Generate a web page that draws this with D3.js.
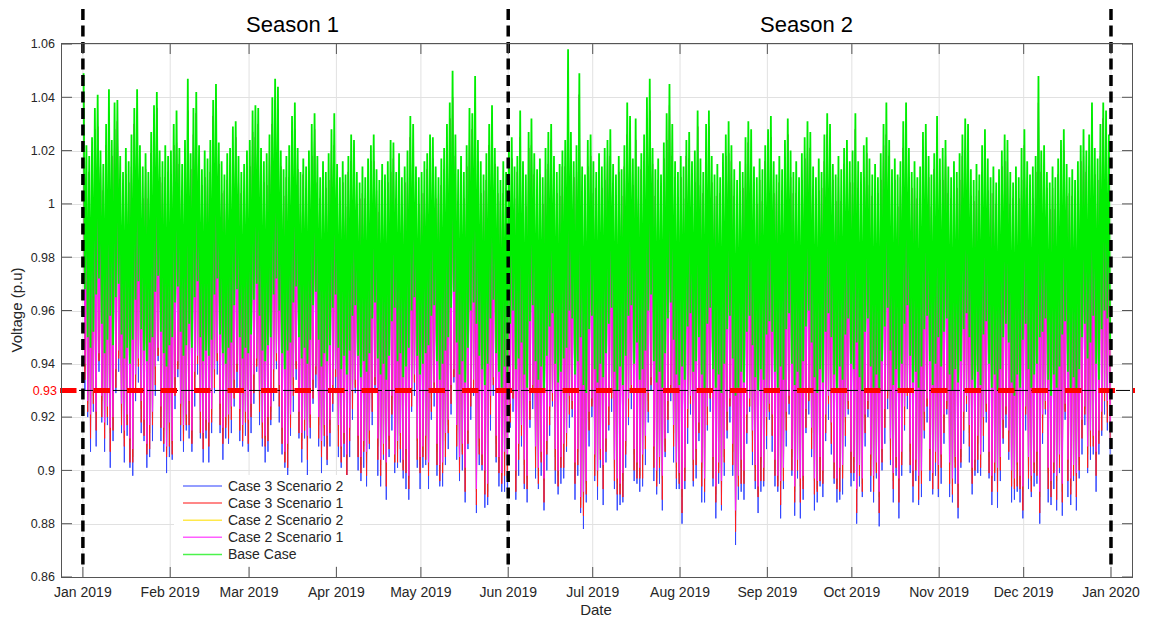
<!DOCTYPE html>
<html><head><meta charset="utf-8">
<script src="https://cdn.jsdelivr.net/npm/d3@7"></script>
<style>
body{margin:0;background:#fff}
svg{display:block;font-family:"Liberation Sans",Arial,Helvetica,sans-serif}
</style>
</head><body><svg id="chart" width="1150" height="624"></svg>
<script>
// ---------- DATA (daily extremes, p.u.) ----------
const baseCaseMax = [
1.049,1.022,1.018,1.025,1.036,1.041,1.020,1.015,1.030,1.043,1.024,1.038,1.039,1.018,1.012,1.021,1.016,1.026,1.036,1.043,1.022,1.014,1.019,1.012,1.027,1.037,1.042,1.020,1.016,1.022,1.018,
1.020,1.030,1.035,1.021,1.015,1.024,1.047,1.019,1.036,1.042,1.022,1.013,1.020,1.017,1.024,1.039,1.045,1.023,1.016,1.011,1.019,1.021,1.029,1.031,1.018,1.012,1.015,1.020,
1.024,1.035,1.037,1.036,1.021,1.016,1.019,1.026,1.040,1.047,1.044,1.020,1.013,1.018,1.022,1.033,1.038,1.021,1.012,1.017,1.014,1.020,1.030,1.034,1.018,1.010,1.016,1.012,1.019,1.028,1.034,
1.015,1.010,1.016,1.011,1.018,1.026,1.024,1.012,1.008,1.014,1.010,1.017,1.022,1.026,1.013,1.009,1.015,1.011,1.016,1.024,1.023,1.012,1.019,1.010,1.014,1.020,1.033,1.030,1.014,1.010,
1.012,1.016,1.019,1.026,1.025,1.014,1.010,1.017,1.021,1.030,1.038,1.050,1.026,1.013,1.018,1.012,1.022,1.036,1.034,1.048,1.024,1.016,1.011,1.019,1.030,1.037,1.021,1.014,1.009,1.016,1.012,
1.022,1.025,1.014,1.018,1.035,1.016,1.011,1.027,1.032,1.019,1.013,1.017,1.010,1.021,1.027,1.030,1.018,1.012,1.015,1.020,1.024,1.058,1.027,1.016,1.022,1.049,1.014,1.011,1.024,1.026,
1.016,1.012,1.019,1.014,1.021,1.024,1.028,1.015,1.011,1.018,1.013,1.022,1.038,1.033,1.017,1.032,1.014,1.019,1.026,1.040,1.047,1.021,1.013,1.017,1.011,1.023,1.034,1.045,1.030,1.016,1.012,
1.018,1.014,1.024,1.027,1.016,1.020,1.035,1.017,1.012,1.030,1.035,1.018,1.011,1.015,1.010,1.019,1.026,1.031,1.022,1.013,1.009,1.016,1.012,1.025,1.031,1.028,1.014,1.010,1.017,1.013,1.022,
1.028,1.033,1.016,1.011,1.018,1.013,1.024,1.032,1.020,1.012,1.016,1.010,1.019,1.025,1.031,1.027,1.014,1.010,1.017,1.012,1.026,1.034,1.030,1.015,1.011,1.018,1.013,1.021,1.024,1.016,
1.020,1.034,1.016,1.012,1.022,1.025,1.017,1.011,1.015,1.010,1.019,1.030,1.038,1.024,1.013,1.017,1.011,1.016,1.031,1.038,1.021,1.012,1.016,1.010,1.014,1.027,1.030,1.018,1.011,1.019,1.033,
1.017,1.021,1.024,1.014,1.010,1.016,1.012,1.019,1.026,1.032,1.030,1.013,1.009,1.015,1.011,1.022,1.028,1.017,1.010,1.014,1.008,1.013,1.020,1.026,1.024,1.012,1.008,1.014,1.010,1.021,
1.028,1.016,1.011,1.014,1.018,1.048,1.020,1.022,1.012,1.008,1.014,1.010,1.017,1.024,1.028,1.015,1.010,1.013,1.009,1.016,1.022,1.028,1.020,1.026,1.038,1.021,1.017,1.030,1.038,1.035,1.026];

const baseCaseMin = [
0.968,0.950,0.946,0.952,0.966,0.972,0.955,0.944,0.949,0.958,0.947,0.965,0.970,0.951,0.942,0.946,0.940,0.949,0.964,0.971,0.953,0.945,0.941,0.948,0.950,0.967,0.973,0.952,0.944,0.939,0.947,
0.950,0.963,0.969,0.952,0.943,0.947,0.955,0.946,0.965,0.971,0.950,0.941,0.945,0.943,0.949,0.966,0.972,0.951,0.944,0.940,0.946,0.948,0.962,0.968,0.950,0.942,0.946,0.944,
0.951,0.964,0.970,0.958,0.945,0.941,0.947,0.950,0.966,0.972,0.960,0.944,0.938,0.945,0.948,0.963,0.969,0.950,0.942,0.946,0.940,0.949,0.962,0.967,0.949,0.939,0.944,0.941,0.947,0.961,0.966,
0.946,0.938,0.943,0.936,0.945,0.958,0.962,0.943,0.935,0.941,0.937,0.944,0.957,0.963,0.942,0.936,0.940,0.934,0.943,0.956,0.961,0.941,0.944,0.935,0.939,0.946,0.960,0.965,0.943,0.936,
0.940,0.944,0.947,0.958,0.962,0.941,0.934,0.940,0.945,0.950,0.961,0.967,0.948,0.936,0.941,0.933,0.946,0.960,0.963,0.955,0.943,0.938,0.932,0.940,0.957,0.964,0.944,0.937,0.931,0.939,0.935,
0.955,0.960,0.938,0.942,0.948,0.936,0.931,0.956,0.962,0.941,0.934,0.939,0.930,0.943,0.954,0.959,0.940,0.933,0.937,0.942,0.946,0.960,0.957,0.936,0.941,0.950,0.932,0.929,0.953,0.958,
0.938,0.933,0.940,0.935,0.944,0.955,0.961,0.937,0.930,0.939,0.932,0.943,0.958,0.962,0.940,0.948,0.934,0.938,0.945,0.960,0.966,0.941,0.933,0.937,0.931,0.944,0.957,0.963,0.949,0.936,0.932,
0.939,0.934,0.954,0.959,0.937,0.941,0.950,0.936,0.930,0.955,0.961,0.938,0.931,0.936,0.929,0.940,0.953,0.958,0.942,0.928,0.931,0.937,0.933,0.952,0.958,0.947,0.935,0.930,0.938,0.934,0.951,
0.956,0.952,0.937,0.931,0.939,0.934,0.953,0.959,0.940,0.932,0.937,0.930,0.941,0.954,0.960,0.948,0.935,0.929,0.938,0.933,0.952,0.959,0.950,0.936,0.930,0.939,0.934,0.951,0.957,0.940,
0.938,0.948,0.935,0.930,0.952,0.957,0.939,0.931,0.936,0.929,0.941,0.954,0.961,0.945,0.932,0.938,0.930,0.940,0.955,0.962,0.943,0.933,0.937,0.931,0.939,0.953,0.958,0.941,0.932,0.940,0.950,
0.939,0.952,0.957,0.936,0.930,0.938,0.933,0.941,0.953,0.959,0.950,0.934,0.929,0.937,0.932,0.951,0.956,0.940,0.931,0.936,0.930,0.938,0.950,0.955,0.948,0.933,0.928,0.936,0.931,0.949,
0.955,0.938,0.931,0.936,0.940,0.950,0.952,0.957,0.934,0.928,0.936,0.931,0.939,0.951,0.956,0.937,0.930,0.935,0.929,0.938,0.950,0.955,0.942,0.948,0.958,0.940,0.934,0.953,0.960,0.957,0.948];

// daily maximum shared by the four case/scenario runs
const caseMax = [
1.041,1.010,1.012,1.015,1.028,1.029,1.014,1.005,1.022,1.031,1.018,1.028,1.031,1.006,1.006,1.011,1.008,1.014,1.030,1.033,1.014,1.002,1.013,1.002,1.019,1.025,1.036,1.010,1.008,1.010,1.012,
1.010,1.022,1.023,1.015,1.005,1.016,1.035,1.013,1.026,1.034,1.010,1.007,1.010,1.009,1.012,1.033,1.035,1.015,1.004,1.005,1.009,1.013,1.017,1.025,1.008,1.004,1.003,1.014,
1.014,1.027,1.025,1.030,1.011,1.008,1.007,1.020,1.030,1.039,1.032,1.014,1.003,1.010,1.010,1.027,1.028,1.013,1.000,1.011,1.004,1.012,1.018,1.028,1.008,1.002,1.004,1.006,1.009,1.020,1.022,
1.009,1.000,1.008,0.999,1.012,1.016,1.016,1.000,1.002,1.004,1.002,1.005,1.016,1.016,1.005,0.997,1.009,1.001,1.008,1.012,1.017,1.002,1.011,0.998,1.008,1.010,1.025,1.018,1.008,1.000,
1.004,1.004,1.013,1.016,1.017,1.002,1.004,1.007,1.013,1.018,1.032,1.040,1.018,1.001,1.012,1.002,1.014,1.024,1.028,1.038,1.016,1.004,1.005,1.009,1.022,1.025,1.015,1.004,1.001,1.004,1.006,
1.012,1.017,1.002,1.012,1.025,1.008,0.999,1.021,1.022,1.011,1.001,1.011,1.000,1.013,1.015,1.024,1.008,1.004,1.003,1.014,1.014,1.050,1.015,1.010,1.012,1.041,1.002,1.005,1.014,1.018,
1.004,1.006,1.009,1.006,1.009,1.018,1.018,1.007,0.999,1.012,1.003,1.014,1.026,1.027,1.007,1.024,1.002,1.013,1.016,1.032,1.035,1.015,1.003,1.009,0.999,1.017,1.024,1.037,1.018,1.010,1.002,
1.010,1.002,1.018,1.017,1.008,1.008,1.029,1.007,1.004,1.018,1.029,1.008,1.003,1.003,1.004,1.009,1.018,1.019,1.016,1.003,1.001,1.004,1.006,1.015,1.023,1.016,1.008,1.000,1.009,1.001,1.016,
1.018,1.025,1.004,1.005,1.008,1.005,1.012,1.026,1.010,1.004,1.004,1.004,1.009,1.017,1.019,1.021,1.004,1.002,1.005,1.006,1.016,1.026,1.018,1.009,1.001,1.010,1.001,1.015,1.014,1.008,
1.008,1.028,1.006,1.004,1.010,1.019,1.007,1.003,1.003,1.004,1.009,1.022,1.026,1.018,1.003,1.009,0.999,1.010,1.021,1.030,1.009,1.006,1.006,1.002,1.002,1.021,1.020,1.010,0.999,1.013,1.023,
1.009,1.009,1.018,1.004,1.002,1.004,1.006,1.009,1.018,1.020,1.024,1.003,1.001,1.003,1.005,1.012,1.020,1.005,1.004,1.004,1.000,1.001,1.014,1.016,1.016,1.000,1.002,1.004,1.002,1.009,
1.022,1.006,1.003,1.002,1.012,1.038,1.012,1.010,1.006,0.998,1.006,0.998,1.011,1.014,1.020,1.003,1.004,1.003,1.001,1.004,1.016,1.018,1.012,1.014,1.032,1.011,1.009,1.018,1.032,1.025,1.018];

const case2Scen1Min = [
0.940,0.926,0.921,0.930,0.922,0.944,0.928,0.918,0.924,0.916,0.920,0.938,0.945,0.925,0.915,0.921,0.912,0.908,0.936,0.942,0.926,0.919,0.910,0.917,0.922,0.939,0.946,0.924,0.916,0.909,0.918,
0.911,0.935,0.941,0.925,0.917,0.921,0.926,0.915,0.937,0.943,0.922,0.914,0.919,0.918,0.923,0.938,0.944,0.925,0.916,0.920,0.921,0.924,0.934,0.940,0.923,0.917,0.922,0.919,
0.925,0.936,0.942,0.930,0.918,0.913,0.920,0.924,0.938,0.944,0.932,0.916,0.907,0.910,0.921,0.935,0.941,0.922,0.914,0.919,0.913,0.921,0.934,0.939,0.920,0.911,0.917,0.913,0.919,0.932,0.938,
0.917,0.909,0.914,0.906,0.916,0.930,0.934,0.913,0.905,0.911,0.907,0.915,0.929,0.935,0.912,0.904,0.910,0.903,0.913,0.928,0.906,0.911,0.914,0.904,0.908,0.898,0.931,0.936,0.912,0.905,
0.909,0.913,0.903,0.929,0.933,0.910,0.902,0.903,0.914,0.919,0.932,0.938,0.917,0.905,0.910,0.901,0.915,0.931,0.934,0.893,0.912,0.906,0.900,0.895,0.928,0.935,0.913,0.905,0.899,0.907,0.902,
0.925,0.930,0.900,0.910,0.917,0.904,0.898,0.926,0.932,0.909,0.901,0.907,0.897,0.911,0.924,0.929,0.908,0.900,0.905,0.910,0.914,0.928,0.926,0.903,0.908,0.890,0.892,0.896,0.922,0.927,
0.906,0.900,0.908,0.902,0.912,0.924,0.930,0.904,0.897,0.895,0.899,0.911,0.927,0.932,0.908,0.903,0.901,0.906,0.913,0.929,0.935,0.909,0.900,0.905,0.898,0.912,0.926,0.932,0.917,0.903,0.899,
0.893,0.901,0.923,0.928,0.904,0.908,0.918,0.903,0.897,0.924,0.930,0.905,0.894,0.903,0.896,0.908,0.922,0.927,0.910,0.885,0.898,0.904,0.900,0.921,0.927,0.915,0.902,0.894,0.905,0.901,0.920,
0.925,0.921,0.904,0.898,0.896,0.901,0.922,0.928,0.908,0.894,0.904,0.897,0.898,0.923,0.929,0.916,0.897,0.896,0.905,0.900,0.921,0.928,0.918,0.903,0.897,0.901,0.902,0.920,0.926,0.907,
0.905,0.893,0.902,0.897,0.921,0.926,0.906,0.898,0.903,0.892,0.908,0.923,0.930,0.912,0.899,0.905,0.897,0.907,0.924,0.931,0.910,0.900,0.904,0.898,0.900,0.922,0.927,0.908,0.899,0.907,0.902,
0.906,0.921,0.926,0.903,0.897,0.905,0.895,0.908,0.922,0.928,0.917,0.901,0.904,0.913,0.906,0.920,0.925,0.907,0.898,0.903,0.901,0.905,0.919,0.924,0.915,0.900,0.897,0.903,0.898,0.894,
0.924,0.905,0.898,0.903,0.907,0.892,0.921,0.926,0.901,0.896,0.903,0.898,0.906,0.895,0.925,0.904,0.897,0.902,0.899,0.905,0.919,0.924,0.909,0.915,0.913,0.907,0.915,0.922,0.929,0.926,0.918];

const case2Scen2Min = [
0.938,0.925,0.918,0.928,0.921,0.941,0.926,0.917,0.921,0.914,0.919,0.935,0.943,0.924,0.912,0.919,0.911,0.905,0.934,0.941,0.923,0.917,0.909,0.914,0.920,0.938,0.943,0.922,0.915,0.906,0.916,
0.910,0.932,0.939,0.924,0.914,0.919,0.925,0.912,0.935,0.942,0.919,0.912,0.918,0.915,0.921,0.937,0.941,0.923,0.915,0.917,0.919,0.923,0.931,0.938,0.922,0.914,0.920,0.918,
0.922,0.934,0.941,0.927,0.916,0.912,0.917,0.922,0.937,0.941,0.930,0.915,0.904,0.908,0.920,0.932,0.939,0.921,0.911,0.917,0.912,0.918,0.932,0.938,0.917,0.909,0.916,0.910,0.917,0.931,0.935,
0.915,0.908,0.911,0.904,0.915,0.927,0.932,0.912,0.902,0.909,0.906,0.912,0.927,0.934,0.909,0.902,0.909,0.900,0.911,0.927,0.903,0.909,0.913,0.901,0.906,0.897,0.928,0.934,0.911,0.902,
0.907,0.912,0.900,0.927,0.932,0.907,0.900,0.902,0.911,0.917,0.931,0.935,0.915,0.904,0.907,0.899,0.914,0.928,0.932,0.892,0.909,0.904,0.899,0.892,0.926,0.934,0.910,0.903,0.898,0.904,0.900,
0.924,0.927,0.898,0.909,0.914,0.902,0.897,0.923,0.930,0.908,0.898,0.905,0.896,0.908,0.922,0.928,0.905,0.898,0.904,0.907,0.912,0.927,0.923,0.901,0.907,0.887,0.890,0.895,0.919,0.925,
0.905,0.897,0.906,0.901,0.909,0.922,0.929,0.901,0.895,0.894,0.896,0.909,0.926,0.929,0.906,0.902,0.898,0.904,0.912,0.926,0.933,0.908,0.897,0.903,0.897,0.909,0.924,0.931,0.914,0.901,0.898,
0.890,0.899,0.922,0.925,0.902,0.907,0.915,0.901,0.896,0.921,0.928,0.904,0.891,0.901,0.895,0.905,0.920,0.926,0.907,0.883,0.897,0.901,0.898,0.920,0.924,0.913,0.901,0.891,0.903,0.900,0.917,
0.923,0.920,0.901,0.896,0.895,0.898,0.920,0.927,0.905,0.892,0.903,0.894,0.896,0.922,0.926,0.914,0.896,0.893,0.903,0.899,0.918,0.926,0.917,0.900,0.895,0.900,0.899,0.918,0.925,0.904,
0.903,0.892,0.899,0.895,0.920,0.923,0.904,0.897,0.900,0.890,0.907,0.920,0.928,0.911,0.896,0.903,0.896,0.904,0.922,0.930,0.907,0.898,0.903,0.895,0.898,0.921,0.924,0.906,0.898,0.904,0.900,
0.905,0.918,0.924,0.902,0.894,0.903,0.894,0.905,0.920,0.927,0.914,0.899,0.903,0.910,0.904,0.919,0.922,0.905,0.897,0.900,0.899,0.904,0.916,0.922,0.914,0.897,0.895,0.902,0.895,0.892,
0.923,0.902,0.896,0.902,0.904,0.890,0.920,0.923,0.899,0.895,0.900,0.896,0.905,0.892,0.923,0.903,0.894,0.900,0.898,0.902,0.917,0.923,0.906,0.913,0.912,0.904,0.913,0.921,0.926,0.924,0.917];

const case3Scen1Min = [
0.934,0.922,0.912,0.925,0.915,0.941,0.920,0.912,0.920,0.907,0.915,0.931,0.942,0.917,0.909,0.917,0.903,0.903,0.929,0.939,0.918,0.913,0.906,0.908,0.917,0.932,0.943,0.916,0.910,0.905,0.909,
0.906,0.928,0.938,0.917,0.911,0.917,0.917,0.910,0.930,0.940,0.914,0.908,0.915,0.909,0.918,0.931,0.941,0.917,0.910,0.916,0.912,0.919,0.927,0.937,0.915,0.911,0.918,0.910,
0.920,0.929,0.939,0.922,0.912,0.909,0.911,0.919,0.931,0.941,0.924,0.910,0.903,0.901,0.916,0.928,0.938,0.914,0.908,0.915,0.904,0.916,0.927,0.936,0.912,0.905,0.913,0.904,0.914,0.925,0.935,
0.909,0.903,0.910,0.897,0.911,0.923,0.931,0.905,0.899,0.907,0.898,0.910,0.922,0.932,0.904,0.898,0.906,0.894,0.908,0.921,0.903,0.903,0.908,0.900,0.899,0.893,0.924,0.933,0.904,0.899,
0.905,0.904,0.898,0.922,0.930,0.902,0.896,0.899,0.905,0.914,0.925,0.935,0.909,0.899,0.906,0.892,0.910,0.924,0.931,0.887,0.906,0.902,0.891,0.890,0.921,0.932,0.905,0.899,0.895,0.898,0.897,
0.918,0.927,0.892,0.904,0.913,0.895,0.893,0.919,0.929,0.901,0.895,0.903,0.888,0.906,0.917,0.926,0.900,0.894,0.901,0.901,0.909,0.921,0.923,0.895,0.902,0.886,0.883,0.891,0.915,0.924,
0.898,0.894,0.904,0.893,0.907,0.917,0.927,0.896,0.891,0.891,0.890,0.906,0.920,0.929,0.900,0.897,0.897,0.897,0.908,0.922,0.932,0.901,0.894,0.901,0.889,0.907,0.919,0.929,0.909,0.897,0.895,
0.884,0.896,0.916,0.925,0.896,0.902,0.914,0.894,0.892,0.917,0.927,0.897,0.888,0.899,0.887,0.903,0.915,0.924,0.902,0.877,0.894,0.895,0.895,0.914,0.924,0.907,0.896,0.890,0.896,0.896,0.913,
0.922,0.913,0.898,0.894,0.887,0.896,0.915,0.925,0.900,0.888,0.900,0.888,0.893,0.916,0.926,0.908,0.891,0.892,0.896,0.895,0.914,0.925,0.910,0.897,0.893,0.892,0.897,0.913,0.923,0.899,
0.899,0.884,0.898,0.892,0.914,0.923,0.898,0.892,0.899,0.884,0.903,0.916,0.927,0.904,0.893,0.901,0.888,0.902,0.917,0.928,0.902,0.894,0.900,0.889,0.895,0.915,0.924,0.900,0.893,0.903,0.893,
0.901,0.914,0.923,0.895,0.891,0.901,0.886,0.903,0.915,0.925,0.909,0.895,0.900,0.904,0.901,0.913,0.922,0.899,0.892,0.899,0.892,0.900,0.912,0.921,0.907,0.894,0.893,0.894,0.893,0.885,
0.921,0.897,0.892,0.899,0.898,0.884,0.914,0.923,0.893,0.890,0.899,0.889,0.901,0.888,0.922,0.896,0.891,0.898,0.890,0.900,0.912,0.921,0.901,0.909,0.909,0.898,0.910,0.915,0.926,0.918,0.912];

const case3Scen2Min = [
0.930,0.920,0.907,0.922,0.909,0.937,0.918,0.907,0.917,0.901,0.911,0.929,0.937,0.914,0.903,0.913,0.901,0.898,0.926,0.933,0.914,0.911,0.901,0.905,0.911,0.928,0.941,0.911,0.907,0.899,0.905,
0.904,0.923,0.935,0.911,0.907,0.915,0.912,0.907,0.924,0.936,0.912,0.903,0.912,0.903,0.914,0.929,0.936,0.914,0.904,0.912,0.910,0.914,0.924,0.931,0.911,0.909,0.913,0.907,
0.914,0.925,0.937,0.917,0.909,0.903,0.907,0.917,0.926,0.938,0.918,0.906,0.901,0.896,0.913,0.922,0.934,0.912,0.903,0.912,0.898,0.912,0.925,0.931,0.909,0.899,0.909,0.902,0.909,0.922,0.929,
0.905,0.901,0.905,0.894,0.905,0.919,0.929,0.900,0.896,0.901,0.894,0.908,0.917,0.929,0.898,0.894,0.904,0.889,0.905,0.915,0.899,0.901,0.903,0.897,0.893,0.889,0.922,0.928,0.901,0.893,
0.901,0.902,0.893,0.919,0.924,0.898,0.894,0.894,0.902,0.908,0.921,0.933,0.904,0.896,0.900,0.888,0.908,0.919,0.928,0.884,0.902,0.900,0.886,0.887,0.915,0.928,0.903,0.894,0.892,0.892,0.893,
0.916,0.922,0.889,0.898,0.909,0.893,0.888,0.916,0.923,0.897,0.893,0.898,0.885,0.900,0.913,0.924,0.895,0.891,0.895,0.897,0.907,0.916,0.920,0.889,0.898,0.884,0.878,0.888,0.909,0.920,
0.896,0.889,0.901,0.887,0.903,0.915,0.922,0.893,0.885,0.887,0.888,0.901,0.917,0.923,0.896,0.895,0.892,0.894,0.902,0.918,0.930,0.896,0.891,0.895,0.885,0.905,0.914,0.926,0.903,0.893,0.893,
0.880,0.893,0.910,0.921,0.894,0.897,0.911,0.888,0.888,0.915,0.922,0.894,0.882,0.895,0.885,0.898,0.912,0.918,0.898,0.872,0.889,0.892,0.889,0.910,0.922,0.902,0.893,0.884,0.892,0.894,0.908,
0.919,0.907,0.894,0.892,0.882,0.893,0.909,0.921,0.898,0.883,0.897,0.882,0.889,0.914,0.921,0.905,0.885,0.888,0.894,0.890,0.911,0.919,0.906,0.895,0.888,0.889,0.891,0.909,0.921,0.894,
0.896,0.880,0.894,0.890,0.909,0.920,0.892,0.888,0.897,0.879,0.900,0.910,0.923,0.902,0.888,0.898,0.882,0.898,0.915,0.923,0.899,0.888,0.896,0.887,0.890,0.912,0.918,0.896,0.891,0.898,0.890,
0.895,0.910,0.921,0.890,0.888,0.895,0.882,0.901,0.910,0.922,0.903,0.891,0.898,0.899,0.898,0.907,0.918,0.897,0.887,0.896,0.886,0.896,0.910,0.916,0.904,0.888,0.889,0.892,0.888,0.882,
0.915,0.893,0.890,0.894,0.895,0.880,0.910,0.921,0.888,0.887,0.893,0.885,0.899,0.883,0.919,0.890,0.887,0.896,0.885,0.897,0.906,0.917,0.899,0.904,0.906,0.892,0.906,0.913,0.921,0.915,0.906];

const seriesNames  = ["Case 3 Scenario 2","Case 3 Scenario 1","Case 2 Scenario 2","Case 2 Scenario 1","Base Case"];
const yTickValues  = [0.86,0.88,0.90,0.92,0.94,0.96,0.98,1.00,1.02,1.04,1.06];
const limitValue   = 0.93;
const seasonLabels = ["Season 1","Season 2"];
const seasonBounds = [Date.UTC(2019,0,1), Date.UTC(2019,5,1), Date.UTC(2020,0,1)];

// ---------- CHART ----------
const svg = d3.select("#chart");
const L = 62, R = 1132, T = 44, B = 577;
const x = d3.scaleUtc().domain([Date.UTC(2018,11,24,14), Date.UTC(2020,0,8,11)]).range([L, R]);
const y = d3.scaleLinear().domain([0.86, 1.06]).range([B, T]);
const days = d3.utcDays(Date.UTC(2019,0,1), Date.UTC(2020,0,1));
const months = d3.utcMonths(Date.UTC(2019,0,1), Date.UTC(2020,0,2));
const colors = ["#3346ff","#ff1c1c","#ffe000","#ff1cff","#00ee00"];
const widths = [1, 1, 1, 1.1, 1.8];
const ink = "#262626";

svg.append("rect").attr("width",1150).attr("height",624).attr("fill","#fff");
svg.append("defs").append("clipPath").attr("id","clip")
  .append("rect").attr("x",L).attr("y",T).attr("width",R-L).attr("height",B-T);

// grid
const grid = svg.append("g").attr("stroke","#e1e1e1").attr("stroke-width",1);
grid.selectAll(".vg").data(months).join("line")
  .attr("x1",d=>x(d)).attr("x2",d=>x(d)).attr("y1",T).attr("y2",B);
grid.selectAll(".hg").data(yTickValues).join("line")
  .attr("x1",L).attr("x2",R).attr("y1",d=>Math.round(y(d))+0.5).attr("y2",d=>Math.round(y(d))+0.5);

// series (Case 2 Scenario 2 lies under the Case 3 traces)
const seriesMin = [case3Scen2Min, case3Scen1Min, case2Scen2Min, case2Scen1Min, baseCaseMin];
const seriesMax = [caseMax, caseMax, caseMax, caseMax, baseCaseMax];
const drawOrder = [2, 0, 1, 3, 4];
const H = 3600*1000;
const line = d3.line().x(p=>x(p.t)).y(p=>y(p.v));
const dataG = svg.append("g").attr("clip-path","url(#clip)");
drawOrder.forEach(s => {
  const mins = seriesMin[s];
  const pts = [];
  days.forEach((dd, i) => {
    pts.push({t: +dd + 6*H, v: seriesMax[s][i]});
    pts.push({t: +dd + 17*H, v: mins[i]});
  });
  dataG.append("path").attr("d", line(pts)).attr("fill","none")
    .attr("stroke", colors[s]).attr("stroke-width", widths[s]).attr("stroke-linejoin","miter");
});

// threshold
svg.append("line").attr("x1",L).attr("x2",R).attr("y1",y(limitValue)).attr("y2",y(limitValue))
  .attr("stroke","#000").attr("stroke-width",1).attr("stroke-dasharray","14,3");
svg.append("line").attr("x1",60).attr("x2",1135).attr("y1",y(limitValue)).attr("y2",y(limitValue))
  .attr("stroke","#ff0000").attr("stroke-width",5).attr("stroke-dasharray","16.5,17");

// season boundaries
svg.selectAll(".sb").data(seasonBounds).join("line")
  .attr("x1",d=>x(d)).attr("x2",d=>x(d)).attr("y1",9).attr("y2",567)
  .attr("stroke","#000").attr("stroke-width",3.5).attr("stroke-dasharray","11,5.5");

// axes box and ticks
const ax = svg.append("g").attr("stroke","#555").attr("stroke-width",1).attr("fill","none");
ax.append("rect").attr("x",L-0.5).attr("y",T-0.5).attr("width",R-L+1).attr("height",B-T+1);
ax.selectAll(".xtb").data(months).join("line")
  .attr("x1",d=>x(d)).attr("x2",d=>x(d)).attr("y1",B).attr("y2",B-10);
ax.selectAll(".xtt").data(months).join("line")
  .attr("x1",d=>x(d)).attr("x2",d=>x(d)).attr("y1",T).attr("y2",T+10);
ax.selectAll(".ytl").data(yTickValues).join("line")
  .attr("x1",L).attr("x2",L+10).attr("y1",d=>y(d)).attr("y2",d=>y(d));
ax.selectAll(".ytr").data(yTickValues).join("line")
  .attr("x1",R-10).attr("x2",R).attr("y1",d=>y(d)).attr("y2",d=>y(d));

// tick labels
const fmtX = d3.utcFormat("%b %Y");
svg.append("g").selectAll("text").data(months).join("text")
  .attr("x",d=>x(d)).attr("y",597).attr("text-anchor","middle")
  .attr("font-size",14).attr("fill",ink).text(d=>fmtX(d));
svg.append("g").selectAll("text").data(yTickValues).join("text")
  .attr("x",55).attr("y",d=>y(d)).attr("dy","0.35em").attr("text-anchor","end")
  .attr("font-size",12.5).attr("fill",ink).text(d=>String(+d.toFixed(2)));
svg.append("text").attr("x",57).attr("y",y(limitValue)).attr("dy","0.35em").attr("text-anchor","end")
  .attr("font-size",12.5).attr("fill","#ff0000").text(String(limitValue));

// axis titles
svg.append("text").attr("x",596).attr("y",615).attr("text-anchor","middle")
  .attr("font-size",15).attr("fill",ink).text("Date");
svg.append("text").attr("transform","translate(22,310) rotate(-90)").attr("text-anchor","middle")
  .attr("font-size",15).attr("fill",ink).text("Voltage (p.u)");

// season titles
seasonLabels.forEach((lab, i) => {
  svg.append("text").attr("x",(x(seasonBounds[i])+x(seasonBounds[i+1]))/2 - 3).attr("y",32)
    .attr("text-anchor","middle").attr("font-size",22).attr("fill","#000").text(lab);
});

// legend
const lg = svg.append("g");
lg.append("rect").attr("x",174).attr("y",475).attr("width",186).attr("height",91).attr("fill","#fff");
seriesNames.forEach((n, i) => {
  const yy = 486 + i*17.1;
  lg.append("line").attr("x1",183).attr("x2",222).attr("y1",yy).attr("y2",yy)
    .attr("stroke",colors[i]).attr("stroke-width",1.5).attr("opacity",0.7);
  lg.append("text").attr("x",228).attr("y",yy).attr("dy","0.35em")
    .attr("font-size",14).attr("fill",ink).text(n);
});
</script>
</body></html>
